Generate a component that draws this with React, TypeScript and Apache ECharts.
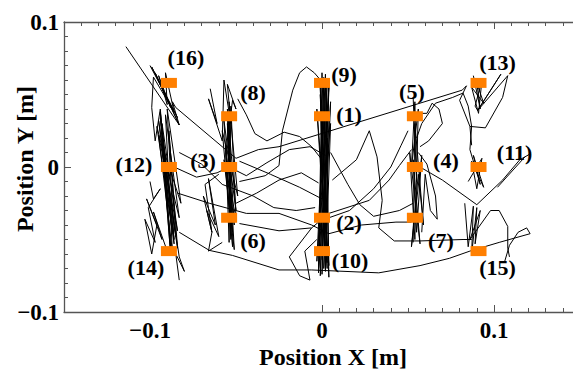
import React, { useEffect, useRef } from "react";
import * as echarts from "echarts";

// ---- target markers (m) ----
const markerNames = ["(1)", "(2)", "(3)", "(4)", "(5)", "(6)", "(7)", "(8)", "(9)", "(10)", "(11)", "(12)", "(13)", "(14)", "(15)", "(16)"];
const markerX = [0, 0, -0.054, 0.054, 0.054, -0.054, 0.054, -0.054, 0, 0, 0.091, -0.089, 0.091, -0.089, 0.091, -0.089];
const markerY = [0.035, -0.035, 0, 0, 0.035, -0.035, -0.035, 0.035, 0.058, -0.058, 0, 0, 0.058, -0.058, -0.058, 0.058];
// label placement relative to marker (px), layout only
const labelOffsets = [
  [27, -2], [27, 5], [-26, -7], [31, -7], [-3, -25], [24, 23], [26, 23], [24, -24],
  [22, -8], [28, 9], [36, -15], [-35, -3], [19, -20], [-23, 16], [19, 16], [17, -25],
];

// ---- axis ticks ----
const xTickLabels = [-0.1, 0, 0.1];
const yTickLabels = [-0.1, 0, 0.1];

// ---- hand-traced trajectory pieces (m) ----
const trAUp = [[-0.100, 0.070], [-0.084, 0.034], [-0.099, 0.069], [-0.083, 0.029], [-0.097, 0.065], [-0.088, 0.041], [-0.095, 0.063], [-0.090, 0.043], [-0.091, 0.065], [-0.086, 0.038], [-0.098, 0.062], [-0.099, 0.041], [-0.097, 0.018], [-0.094, 0.040], [-0.092, 0.012]];
const trAMain = [[-0.092, 0.012], [-0.086, -0.050], [-0.094, 0.038], [-0.088, -0.055], [-0.093, 0.030], [-0.084, -0.044], [-0.095, 0.022], [-0.087, -0.058], [-0.091, 0.036], [-0.083, -0.035], [-0.096, 0.028], [-0.086, -0.053], [-0.090, 0.040], [-0.082, -0.025], [-0.093, 0.015], [-0.088, -0.060], [-0.094, 0.034], [-0.085, -0.048], [-0.089, 0.025], [-0.084, -0.056], [-0.092, 0.006], [-0.087, -0.045], [-0.095, 0.032], [-0.083, -0.062], [-0.080, -0.072], [-0.085, -0.060], [-0.083, -0.078]];
const trALeft = [[-0.100, -0.010], [-0.098, -0.022], [-0.094, -0.015], [-0.101, -0.028], [-0.097, -0.052], [-0.103, -0.036], [-0.099, -0.060], [-0.096, -0.040], [-0.102, -0.022], [-0.093, -0.050], [-0.098, -0.031], [-0.090, -0.058]];
const trBTop = [[-0.065, 0.054], [-0.061, 0.030], [-0.066, 0.047], [-0.058, 0.018], [-0.057, 0.060], [-0.053, 0.030], [-0.055, 0.057], [-0.050, 0.040], [-0.052, 0.046], [-0.056, 0.010]];
const trBMain = [[-0.056, 0.010], [-0.052, -0.045], [-0.055, 0.040], [-0.050, -0.030], [-0.057, 0.032], [-0.053, -0.050], [-0.054, 0.045], [-0.049, -0.020], [-0.058, 0.025], [-0.052, -0.055], [-0.055, 0.038], [-0.051, -0.040], [-0.056, 0.015], [-0.054, -0.052], [-0.053, 0.042], [-0.050, -0.035], [-0.057, 0.005], [-0.051, -0.057], [-0.055, 0.030], [-0.053, -0.046]];
const trBLeft = [[-0.060, -0.005], [-0.068, -0.012], [-0.064, -0.045], [-0.069, -0.020], [-0.062, -0.040], [-0.066, -0.008], [-0.060, -0.048], [-0.067, -0.030], [-0.064, -0.045], [-0.066, -0.058], [-0.058, -0.052]];
const trC = [[0.001, 0.062], [-0.002, -0.070], [0.003, 0.060], [0.000, -0.074], [0.004, 0.055], [-0.003, -0.065], [0.002, 0.064], [0.004, -0.076], [-0.001, 0.050], [0.002, -0.072], [0.005, 0.030], [-0.002, -0.060], [0.001, 0.058], [0.003, -0.070], [-0.003, 0.040], [0.004, -0.068], [0.002, 0.062], [-0.001, -0.075], [0.003, 0.020], [0.001, -0.070], [0.005, 0.045], [-0.002, -0.073], [0.000, 0.065], [0.003, -0.066], [-0.001, 0.055], [0.002, -0.071], [0.004, 0.060], [0.000, -0.064]];
const trD = [[0.053, 0.048], [0.055, -0.010], [0.054, 0.045], [0.052, 0.000], [0.056, 0.040], [0.054, -0.050], [0.051, 0.010], [0.057, -0.053], [0.053, 0.005], [0.055, -0.045], [0.058, 0.008], [0.052, -0.055], [0.056, -0.005], [0.059, -0.040], [0.054, 0.030], [0.053, -0.052]];
const trDLoop = [[0.056, 0.010], [0.061, 0.002], [0.066, -0.020], [0.067, -0.036], [0.063, -0.030], [0.060, -0.005], [0.058, -0.045]];
const trETop = [[0.088, 0.063], [0.092, 0.040], [0.090, 0.058], [0.094, 0.044], [0.087, 0.055], [0.091, 0.037], [0.093, 0.060], [0.089, 0.042], [0.0905, 0.039], [0.104, 0.064], [0.0905, 0.039], [0.108, 0.063], [0.105, 0.048], [0.095, 0.027], [0.086, 0.028], [0.087, 0.015]];
const trEMid = [[0.086, 0.012], [0.092, -0.012], [0.088, 0.008], [0.094, -0.014], [0.087, 0.004], [0.090, -0.015], [0.093, 0.006], [0.085, -0.010]];
const trELow = [[0.083, -0.025], [0.085, -0.055], [0.088, -0.027], [0.087, -0.060], [0.090, -0.028], [0.089, -0.053], [0.092, -0.030], [0.086, -0.050], [0.098, -0.030], [0.103, -0.030], [0.108, -0.041], [0.108, -0.056], [0.109, -0.062]];
const pathLong = [[-0.114, 0.083], [-0.083, 0.029], [-0.087, 0.045], [-0.085, 0.041], [-0.050, 0.006], [-0.037, 0.012], [-0.025, 0.014], [0.0815, 0.053], [0.084, 0.056], [0.080, 0.046], [0.086, 0.028]];
const pathTopLoop = [[-0.048, -0.010], [-0.033, -0.006], [-0.025, 0.001], [-0.023, 0.025], [-0.017, 0.053], [-0.013, 0.065], [-0.009, 0.069], [-0.0045, 0.065], [-0.0016, 0.061]];
const web1 = [[-0.084, -0.018], [-0.0655, -0.025], [-0.044, -0.032], [-0.025, -0.032], [-0.006, -0.040], [0.004, -0.046], [0.023, -0.040], [0.043, -0.038], [0.052, -0.038]];
const web2 = [[-0.086, 0.000], [-0.073, -0.007], [-0.061, -0.004], [-0.054, 0.000], [-0.044, -0.006], [-0.032, 0.003], [-0.019, 0.012], [-0.007, 0.014], [0.002, 0.008]];
const web3 = [[-0.049, 0.047], [-0.044, 0.036], [-0.039, 0.023], [-0.032, 0.018], [-0.022, 0.024], [-0.013, 0.021], [-0.006, 0.014], [0.000, 0.005]];
const web4 = [[-0.050, -0.025], [-0.038, -0.018], [-0.025, -0.009], [-0.012, -0.004], [-0.002, -0.011]];
const web5 = [[-0.048, -0.039], [-0.025, -0.044], [-0.006, -0.042], [0.004, -0.032], [0.0275, -0.023], [0.039, -0.009], [0.045, 0.001], [0.052, 0.012]];
const web6 = [[0.006, -0.009], [0.020, 0.005], [0.0275, 0.025], [0.032, 0.007], [0.035, -0.023], [0.033, -0.042], [0.042, -0.051], [0.057, -0.051], [0.082, -0.050], [0.087, -0.050]];
const web7 = [[0.0525, 0.037], [0.061, 0.037], [0.064, 0.044], [0.068, 0.040], [0.070, 0.030], [0.062, 0.018], [0.057, 0.014]];
const web8 = [[0.055, 0.020], [0.058, 0.030], [0.066, 0.044], [0.076, 0.048], [0.082, 0.051], [0.085, 0.042], [0.087, 0.028], [0.086, 0.012]];
const web9 = [[-0.048, 0.004], [-0.030, -0.005], [-0.013, -0.014], [0.000, -0.022]];
const web10 = [[0.004, -0.035], [0.016, -0.030], [0.030, -0.015], [0.040, 0.000], [0.046, 0.015], [0.050, 0.025]];
const web11 = [[-0.083, 0.010], [-0.070, 0.002], [-0.058, -0.012], [-0.040, -0.020], [-0.028, -0.028], [-0.015, -0.030], [-0.004, -0.028]];
const web12 = [[0.005, 0.010], [0.015, -0.012], [0.022, -0.026], [0.030, -0.034], [0.045, -0.030], [0.053, -0.025]];
const pathV = [[0.057, 0.000], [0.070, -0.009], [0.090, -0.026], [0.105, -0.009], [0.115, 0.005], [0.121, 0.009]];
const path11 = [[0.118, 0.007], [0.102, -0.014]];
const pathBottom = [[-0.083, -0.045], [-0.0655, -0.0575], [-0.052, -0.061], [-0.025, -0.071], [-0.006, -0.071], [0.033, -0.073], [0.057, -0.068], [0.074, -0.063], [0.086, -0.058], [0.103, -0.052], [0.121, -0.046], [0.119, -0.042], [0.114, -0.045], [0.109, -0.054], [0.106, -0.066]];
const loopUnderC = [[-0.006, -0.042], [-0.019, -0.062], [-0.013, -0.075], [-0.007, -0.078], [-0.010, -0.058], [-0.003, -0.050]];

const traces = [trAUp, trAMain, trALeft, trBTop, trBMain, trBLeft, trC, trD, trDLoop, trETop, trEMid, trELow, pathLong, pathTopLoop, web1, web2, web3, web4, web5, web6, web7, web8, web9, web10, web11, web12, pathV, path11, pathBottom, loopUnderC];

const SERIF = "'Liberation Serif', 'Times New Roman', serif";
const AXIS_COLOR = "#555";

function fmt(v: number): string {
  for (const t of xTickLabels) {
    if (Math.abs(v - t) < 1e-9) return t < 0 ? "\u2212" + String(-t) : String(t);
  }
  return "";
}

export default function App() {
  const ref = useRef<HTMLDivElement>(null);
  useEffect(() => {
    if (!ref.current) return;
    const chart = echarts.init(ref.current, null, { renderer: "svg" });
    const lineSeries = traces.map((t) => ({
      type: "line",
      xAxisIndex: 0,
      yAxisIndex: 0,
      data: t,
      symbol: "none",
      silent: true,
      lineStyle: { color: "#000", width: 1 },
      z: 2,
    }));
    const scatterData = markerNames.map((n, i) => ({
      name: n,
      value: [markerX[i], markerY[i]],
      label: { offset: labelOffsets[i] },
    }));
    const gridBase = { top: 22, height: 290, containLabel: false, outerBoundsMode: "none" };
    chart.setOption({
      animation: false,
      backgroundColor: "#fff",
      grid: [
        { ...gridBase, left: 64, width: 516 },
        { ...gridBase, left: 322, width: 344 },
        { ...gridBase, left: 150, width: 516 },
      ],
      xAxis: [
        {
          type: "value", gridIndex: 0, position: "bottom", min: -0.15, max: 0.15, interval: 0.05,
          axisLine: { show: true, onZero: false, lineStyle: { color: AXIS_COLOR, width: 1.3 } },
          axisTick: { show: false },
          splitLine: { show: false },
          axisLabel: { formatter: fmt, fontFamily: SERIF, fontWeight: "bold", fontSize: 23, color: "#000", margin: 7 },
          name: "Position X [m]", nameLocation: "middle", nameGap: 33, nameMoveOverlap: false,
          nameTextStyle: { fontFamily: SERIF, fontWeight: "bold", fontSize: 24, color: "#000", padding: [0, 0, 0, 22] },
        },
        {
          type: "value", gridIndex: 0, position: "top", min: -0.15, max: 0.15, interval: 0.01,
          axisLine: { show: true, onZero: false, lineStyle: { color: AXIS_COLOR, width: 1.3 } },
          axisTick: { show: true, inside: true, length: 4, lineStyle: { color: AXIS_COLOR } },
          axisLabel: { show: false }, splitLine: { show: false },
        },
        {
          type: "value", gridIndex: 1, position: "bottom", min: 0, max: 0.2, interval: 0.1,
          axisLine: { show: false, onZero: false },
          axisTick: { show: true, inside: true, length: 7, lineStyle: { color: AXIS_COLOR } },
          minorTick: { show: true, splitNumber: 10, length: 4, lineStyle: { color: AXIS_COLOR } },
          axisLabel: { show: false }, splitLine: { show: false },
        },
        {
          type: "value", gridIndex: 2, position: "top", min: -0.1, max: 0.2, interval: 0.1,
          axisLine: { show: false, onZero: false },
          axisTick: { show: true, inside: true, length: 7, lineStyle: { color: AXIS_COLOR } },
          axisLabel: { show: false }, splitLine: { show: false },
        },
      ],
      yAxis: [
        {
          type: "value", gridIndex: 0, min: -0.1, max: 0.1, interval: 0.1,
          axisLine: { show: true, onZero: false, lineStyle: { color: AXIS_COLOR, width: 1.3 } },
          axisTick: { show: true, inside: true, length: 7, lineStyle: { color: AXIS_COLOR } },
          minorTick: { show: true, splitNumber: 10, length: 4, lineStyle: { color: AXIS_COLOR } },
          splitLine: { show: false },
          axisLabel: { formatter: fmt, fontFamily: SERIF, fontWeight: "bold", fontSize: 23, color: "#000", margin: 5 },
          name: "Position Y [m]", nameLocation: "middle", nameGap: 27, nameMoveOverlap: false,
          nameTextStyle: { fontFamily: SERIF, fontWeight: "bold", fontSize: 24, color: "#000", padding: [0, 0, 0, 16] },
        },
        { type: "value", gridIndex: 1, min: -0.1, max: 0.1, show: false },
        { type: "value", gridIndex: 2, min: -0.1, max: 0.1, show: false },
      ],
      series: [
        ...lineSeries,
        {
          type: "scatter",
          xAxisIndex: 0,
          yAxisIndex: 0,
          symbol: "rect",
          symbolSize: [16, 10],
          itemStyle: { color: "#FF7F00", opacity: 1 },
          z: 5,
          data: scatterData,
          label: {
            show: true,
            position: "inside",
            formatter: (p: any) => p.name,
            fontFamily: SERIF,
            fontWeight: "bold",
            fontSize: 22,
            color: "#000",
            textBorderWidth: 0,
            textBorderColor: "transparent",
          },
        },
      ],
    });
    return () => chart.dispose();
  }, []);
  return (
    <div style={{ position: "absolute", left: 0, top: 0, width: 573, height: 372, overflow: "hidden" }}>
      <div ref={ref} style={{ width: 573, height: 372 }} />
    </div>
  );
}
